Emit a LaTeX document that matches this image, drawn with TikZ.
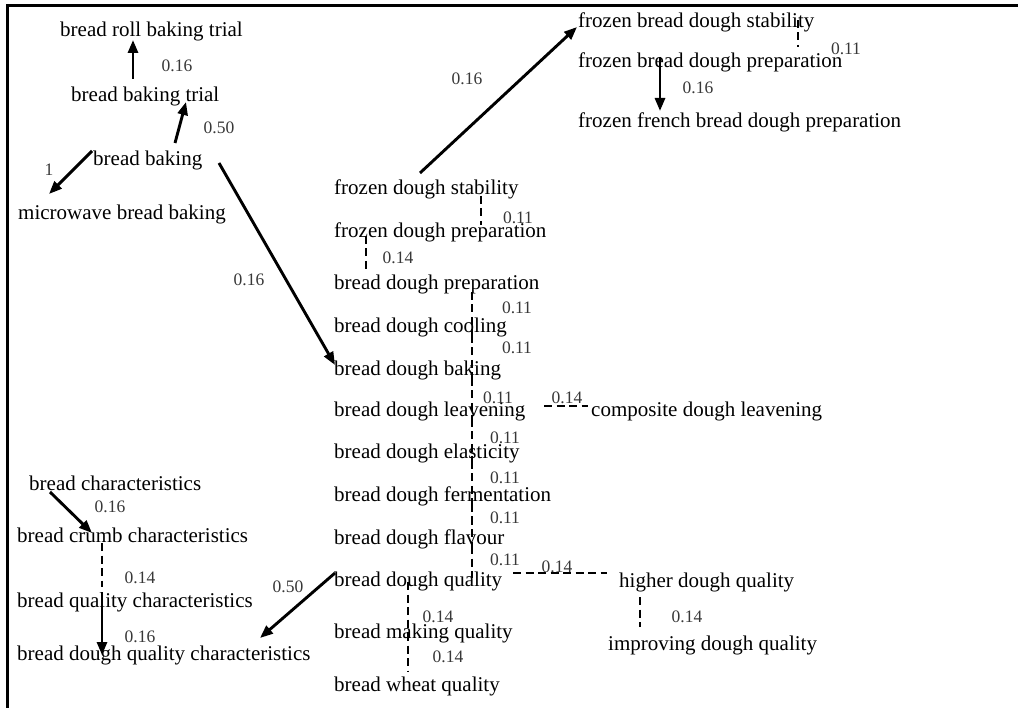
\documentclass[tikz,border=0pt]{standalone}
\usepackage{fontspec}
\setmainfont{Liberation Serif}
\usetikzlibrary{arrows.meta}
\tikzset{
  term/.style={anchor=base west, inner sep=0pt, font=\fontsize{21}{25}\selectfont},
  wt/.style={inner sep=0pt, text=black!78, font=\fontsize{17.5}{21}\selectfont},
  link/.style={line width=2.9pt, -{Triangle[length=13pt,width=10pt]}},
  assoc/.style={line width=2.9pt, dash pattern=on 8pt off 4.5pt},
  frame/.style={line width=2.5pt}
}
\begin{document}
\begin{tikzpicture}[x=1pt, y=-1pt]
\useasboundingbox (0,0) rectangle (1018,708);
\draw[frame] (7.5,708) -- (7.5,5.5) -- (1018,5.5);

% terms
\node[term] (rolltrial) at (60,37)  {bread roll baking trial};
\node[term] (trial)     at (71,102) {bread baking trial};
\node[term] (baking)    at (93,166) {bread baking};
\node[term] (micro)     at (18,220) {microwave bread baking};
\node[term] (fbds)      at (578,28)  {frozen bread dough stability};
\node[term] (fbdp)      at (578,68)  {frozen bread dough preparation};
\node[term] (ffbdp)     at (578,128) {frozen french bread dough preparation};
\node[term] (fds)       at (334,195) {frozen dough stability};
\node[term] (fdp)       at (334,238) {frozen dough preparation};
\node[term] (bdp)       at (334,290) {bread dough preparation};
\node[term] (bdc)       at (334,333) {bread dough cooling};
\node[term] (bdb)       at (334,376) {bread dough baking};
\node[term] (bdl)       at (334,417) {bread dough leavening};
\node[term] (bde)       at (334,459) {bread dough elasticity};
\node[term] (bdf)       at (334,502) {bread dough fermentation};
\node[term] (bdfl)      at (334,544) {bread dough flavour};
\node[term] (bdq)       at (334,586) {bread dough quality};
\node[term] (bmq)       at (334,638) {bread making quality};
\node[term] (bwq)       at (334,691) {bread wheat quality};
\node[term] (cdl)       at (591,417) {composite dough leavening};
\node[term] (hdq)       at (619,587) {higher dough quality};
\node[term] (idq)       at (608,650) {improving dough quality};
\node[term] (bc)        at (29,491)  {bread characteristics};
\node[term] (bcc)       at (17,543)  {bread crumb characteristics};
\node[term] (bqc)       at (17,607)  {bread quality characteristics};
\node[term] (bdqc)      at (17,660)  {bread dough quality characteristics};

% directed links
\draw[link] ([shift={(62,-23)}]trial.base west) -- ([shift={(73,3)}]rolltrial.base west);
\draw[link] ([shift={(82,-23)}]baking.base west) -- ([shift={(115,0)}]trial.base west);
\draw[link] ([shift={(-1,-15)}]baking.base west) -- ([shift={(31,-26)}]micro.base west);
\draw[link] ([shift={(126,-3)}]baking.base west) -- ([shift={(1,-11)}]bdb.base west);
\draw[link] ([shift={(86,-22)}]fds.base west) -- ([shift={(-1,-1)}]fbds.base west);
\draw[link] ([shift={(82,-11)}]fbdp.base west) -- ([shift={(82,-17)}]ffbdp.base west);
\draw[link] ([shift={(1,-13)}]bdq.base west) -- ([shift={(243,-22)}]bdqc.base west);
\draw[link] ([shift={(21,1)}]bc.base west) -- ([shift={(75,-10)}]bcc.base west);
\draw[link] ([shift={(85,-15)}]bqc.base west) -- ([shift={(85,-5)}]bdqc.base west);

% undirected associations
\draw[assoc] ([shift={(220,-8)}]fbds.base west) -- ([shift={(220,-21)}]fbdp.base west);
\draw[assoc] ([shift={(147,1)}]fds.base west) -- ([shift={(147,-13)}]fdp.base west);
\draw[assoc] ([shift={(32,-2)}]fdp.base west) -- ([shift={(32,-20)}]bdp.base west);
\draw[assoc] ([shift={(138,2)}]bdp.base west) -- ([shift={(138,2)}]bdc.base west);
\draw[assoc] ([shift={(138,2)}]bdc.base west) -- ([shift={(138,2)}]bdb.base west);
\draw[assoc] ([shift={(138,2)}]bdb.base west) -- ([shift={(138,2)}]bdl.base west);
\draw[assoc] ([shift={(138,2)}]bdl.base west) -- ([shift={(138,2)}]bde.base west);
\draw[assoc] ([shift={(138,2)}]bde.base west) -- ([shift={(138,2)}]bdf.base west);
\draw[assoc] ([shift={(138,2)}]bdf.base west) -- ([shift={(138,2)}]bdfl.base west);
\draw[assoc] ([shift={(138,2)}]bdfl.base west) -- ([shift={(138,-8)}]bdq.base west);
\draw[assoc] ([shift={(210,-11)}]bdl.base west) -- ([shift={(-3,-11)}]cdl.base west);
\draw[assoc] ([shift={(179,-13)}]bdq.base west) -- ([shift={(-12,-14)}]hdq.base west);
\draw[assoc] ([shift={(21,10)}]hdq.base west) -- ([shift={(32,-23)}]idq.base west);
\draw[assoc] ([shift={(74,-4)}]bdq.base west) -- ([shift={(74,-5)}]bmq.base west);
\draw[assoc] ([shift={(74,-5)}]bmq.base west) -- ([shift={(74,-19)}]bwq.base west);
\draw[assoc] ([shift={(85,0)}]bcc.base west) -- ([shift={(85,-20)}]bqc.base west);

% weights
\node[wt] (w1)  at (177,66)  {0.16};
\node[wt] (w2)  at (219,128) {0.50};
\node[wt] (w3)  at (49,170)  {1};
\node[wt] (w4)  at (249,280) {0.16};
\node[wt] (w5)  at (467,79)  {0.16};
\node[wt] (w6)  at (698,88)  {0.16};
\node[wt] (w7)  at (846,49)  {0.11};
\node[wt] (w8)  at (518,218) {0.11};
\node[wt] (w9)  at (398,258) {0.14};
\node[wt] (w10) at (517,308) {0.11};
\node[wt] (w11) at (517,348) {0.11};
\node[wt] (w12) at (498,398) {0.11};
\node[wt] (w13) at (505,438) {0.11};
\node[wt] (w14) at (505,478) {0.11};
\node[wt] (w15) at (505,518) {0.11};
\node[wt] (w16) at (505,560) {0.11};
\node[wt] (w17) at (567,398) {0.14};
\node[wt] (w18) at (557,567) {0.14};
\node[wt] (w19) at (687,617) {0.14};
\node[wt] (w20) at (438,617) {0.14};
\node[wt] (w21) at (448,657) {0.14};
\node[wt] (w22) at (288,587) {0.50};
\node[wt] (w23) at (110,507) {0.16};
\node[wt] (w24) at (140,578) {0.14};
\node[wt] (w25) at (140,637) {0.16};
\end{tikzpicture}
\end{document}
